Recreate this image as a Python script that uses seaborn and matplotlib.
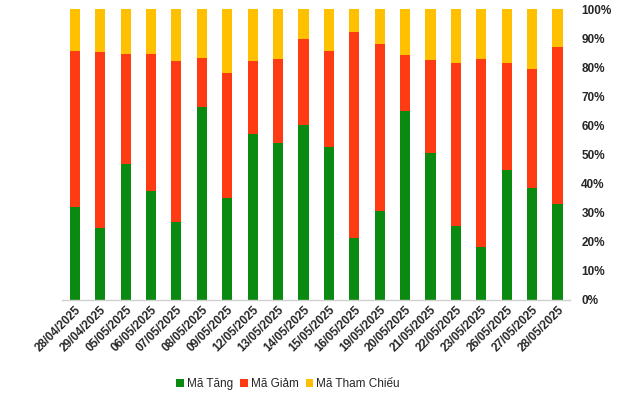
import matplotlib
matplotlib.use("Agg")
import matplotlib.pyplot as plt
import seaborn as sns
import pandas as pd
import numpy as np
from matplotlib.patches import Patch
from matplotlib.ticker import PercentFormatter

dates = ["28/04/2025", "29/04/2025", "05/05/2025", "06/05/2025", "07/05/2025",
         "08/05/2025", "09/05/2025", "12/05/2025", "13/05/2025", "14/05/2025",
         "15/05/2025", "16/05/2025", "19/05/2025", "20/05/2025", "21/05/2025",
         "22/05/2025", "23/05/2025", "26/05/2025", "27/05/2025", "28/05/2025"]
tang = [32.0, 24.7, 46.8, 37.5, 26.9, 66.3, 35.1, 57.2, 54.0, 60.1,
        52.6, 21.4, 30.6, 64.9, 50.5, 25.4, 18.2, 44.7, 38.5, 33.1]
giam = [53.6, 60.5, 37.7, 47.0, 55.2, 16.9, 42.9, 24.9, 28.8, 29.6,
        33.0, 70.7, 57.4, 19.3, 32.0, 56.0, 64.6, 36.7, 40.9, 53.8]
tham_chieu = [100 - a - b for a, b in zip(tang, giam)]

series_names = ["Mã Tăng", "Mã Giảm", "Mã Tham Chiếu"]
colors = ["#0B8A12", "#FF3B14", "#FFC000"]

df = pd.DataFrame({"date": dates, "tang": tang, "giam": giam, "tc": tham_chieu})
df["c1"] = df["tang"]
df["c2"] = df["tang"] + df["giam"]
df["c3"] = df["c2"] + df["tc"]

sns.set_theme(style="white")
plt.rcParams["font.family"] = ["Liberation Sans", "DejaVu Sans"]

fig = plt.figure(figsize=(6.4, 3.94), dpi=100)
ax = fig.add_axes([0.097, 0.239, 0.794, 0.738])

for col, c in zip(["c3", "c2", "c1"], colors[::-1]):
    sns.barplot(data=df, x="date", y=col, color=c, width=0.4, ax=ax,
                saturation=1, edgecolor="none", linewidth=0)

ax.set_xlim(-0.5, len(dates) - 0.5)
ax.set_ylim(0, 100)
ax.set_xlabel("")
ax.set_ylabel("")
ax.yaxis.tick_right()
ax.yaxis.set_major_locator(plt.MultipleLocator(10))
ax.yaxis.set_major_formatter(PercentFormatter(decimals=0))
for s in ["top", "left", "right"]:
    ax.spines[s].set_visible(False)
ax.spines["bottom"].set_color("#D0D0D0")
ax.spines["bottom"].set_linewidth(1.0)
ax.tick_params(axis="y", length=0, pad=8, labelsize=8.5)
ax.tick_params(axis="x", length=0, pad=3, labelsize=8.5)
for lbl in ax.get_yticklabels():
    lbl.set_fontweight("bold")
plt.setp(ax.get_xticklabels(), rotation=45, ha="right", rotation_mode="anchor",
         fontweight="bold")

handles = [Patch(facecolor=c, edgecolor="none") for c in colors]
fig.legend(handles, series_names, loc="center", bbox_to_anchor=(0.45, 0.026),
           ncol=3, frameon=False, fontsize=8.5, handlelength=0.65, handleheight=0.65,
           handletextpad=0.25, columnspacing=0.6)

fig.savefig("out.png", dpi=100)
